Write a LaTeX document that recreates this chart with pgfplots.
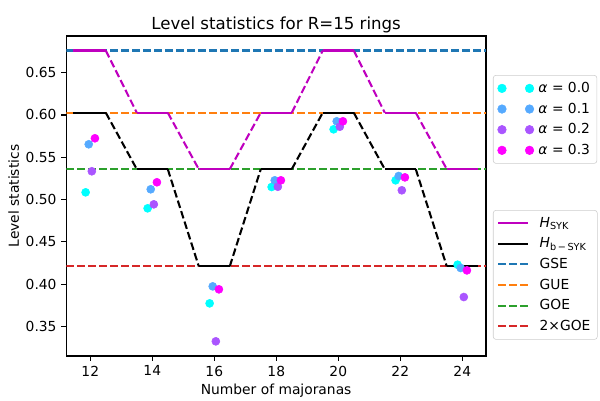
\documentclass[border=0pt]{standalone}
\usepackage{fontspec}
\setmainfont{DejaVu Sans}
\usepackage{pgfplots}
\pgfplotsset{compat=1.18}
\definecolor{cA}{rgb}{0,1,1}
\definecolor{cB}{rgb}{0.333,0.667,1}
\definecolor{cC}{rgb}{0.667,0.333,1}
\definecolor{cD}{rgb}{1,0,1}
\definecolor{syk}{rgb}{0.75,0,0.75}
\definecolor{tabblue}{HTML}{1F77B4}
\definecolor{taborange}{HTML}{FF7F0E}
\definecolor{tabgreen}{HTML}{2CA02C}
\definecolor{tabred}{HTML}{D62728}
\pgfplotsset{
  myax/.style={at={(0pt,0pt)}, anchor=south west, scale only axis,
    width=303.3pt, height=231.3pt,
    xmin=11.226, xmax=24.765, ymin=0.3149, ymax=0.6934},
  mydash/.style={dash pattern=on 5.55pt off 2.4pt},
  myleg/.style={legend cell align=left, draw=black!20, rounded corners=2pt, fill=white,
    font=\fontsize{10}{12}\selectfont, row sep=2pt, inner sep=3pt,
    nodes={inner sep=2pt}},
}
\begin{document}
\begin{tikzpicture}
\path[use as bounding box] (-47.9pt,-31.8pt) rectangle (385.7pt,257.3pt);
\begin{axis}[myax,
  tick align=outside, tick pos=lower,
  major tick length=3.5pt,
  axis line style={line width=0.8pt}, every tick/.style={line width=0.8pt, black},
  xtick={12,14,16,18,20,22,24},
  ytick={0.35,0.40,0.45,0.50,0.55,0.60,0.65},
  yticklabel style={/pgf/number format/.cd, fixed, fixed zerofill, precision=2},
  /pgf/number format/assume math mode=true,
  tick label style={font=\fontsize{10}{12}\selectfont},
  title={Level statistics for R=15 rings},
  title style={font=\fontsize{12}{14}\selectfont, yshift=-7pt},
  xlabel={Number of majoranas},
  ylabel={Level statistics},
  label style={font=\fontsize{10}{12}\selectfont},
  xlabel style={yshift=1pt},
  ylabel style={yshift=-2pt},
  unbounded coords=jump,
  legend style={myleg, at={(1.0167,0.456)}, anchor=north west},
  legend image code/.code={\draw[#1] (0cm,0cm) -- (0.75cm,0cm); \path (0.95cm,0);},
]
% horizontal reference lines
\addplot[tabblue, line width=1.5pt, mydash, forget plot] coordinates {(11.226,0.6762) (24.765,0.6762)};
\addplot[taborange, line width=1.5pt, mydash, forget plot] coordinates {(11.226,0.6027) (24.765,0.6027)};
\addplot[tabgreen, line width=1.5pt, mydash, forget plot] coordinates {(11.226,0.5359) (24.765,0.5359)};
\addplot[tabred, line width=1.5pt, mydash, forget plot] coordinates {(11.226,0.421) (24.765,0.421)};
% H_SYK steps
\addplot[syk, line width=1.5pt, forget plot] coordinates {
 (11.45,0.6762) (12.5,0.6762) (13,nan)
 (13.5,0.6027) (14.5,0.6027) (15,nan)
 (15.5,0.5359) (16.5,0.5359) (17,nan)
 (17.5,0.6027) (18.5,0.6027) (19,nan)
 (19.5,0.6762) (20.5,0.6762) (21,nan)
 (21.5,0.6027) (22.5,0.6027) (23,nan)
 (23.5,0.5359) (24.5,0.5359)};
\addplot[syk, line width=1.5pt, mydash, forget plot] coordinates {
 (12.5,0.6762) (13.5,0.6027) (14,nan)
 (14.5,0.6027) (15.5,0.5359) (16,nan)
 (16.5,0.5359) (17.5,0.6027) (18,nan)
 (18.5,0.6027) (19.5,0.6762) (20,nan)
 (20.5,0.6762) (21.5,0.6027) (22,nan)
 (22.5,0.6027) (23.5,0.5359)};
% H_b-SYK steps
\addplot[black, line width=1.5pt, forget plot] coordinates {
 (11.45,0.6027) (12.5,0.6027) (13,nan)
 (13.5,0.5359) (14.5,0.5359) (15,nan)
 (15.5,0.421) (16.5,0.421) (17,nan)
 (17.5,0.5359) (18.5,0.5359) (19,nan)
 (19.5,0.6027) (20.5,0.6027) (21,nan)
 (21.5,0.5359) (22.5,0.5359) (23,nan)
 (23.5,0.421) (24.5,0.421)};
\addplot[black, line width=1.5pt, mydash, forget plot] coordinates {
 (12.5,0.6027) (13.5,0.5359) (14,nan)
 (14.5,0.5359) (15.5,0.421) (16,nan)
 (16.5,0.421) (17.5,0.5359) (18,nan)
 (18.5,0.5359) (19.5,0.6027) (20,nan)
 (20.5,0.6027) (21.5,0.5359) (22,nan)
 (22.5,0.5359) (23.5,0.421)};
\addlegendimage{syk, line width=1.5pt}
\addlegendentry{\textit{H}\textsubscript{SYK}}
\addlegendimage{black, line width=1.5pt}
\addlegendentry{\textit{H}\textsubscript{b\,−\,SYK}}
\addlegendimage{tabblue, line width=1.5pt, mydash}
\addlegendentry{GSE}
\addlegendimage{taborange, line width=1.5pt, mydash}
\addlegendentry{GUE}
\addlegendimage{tabgreen, line width=1.5pt, mydash}
\addlegendentry{GOE}
\addlegendimage{tabred, line width=1.5pt, mydash}
\addlegendentry{2×GOE}
\end{axis}
\begin{axis}[myax, hide axis,
  legend style={myleg, at={(1.0167,0.878)}, anchor=north west},
]
\addplot[only marks, mark=*, mark size=2.9pt, color=cA,
  legend image code/.code={\fill[cA] (0.1cm,0) circle (3.1pt); \fill[cA] (0.8cm,0) circle (3.1pt); \path (0cm,0) (0.95cm,0);}]
  coordinates {(11.85,0.5085) (13.85,0.4896) (15.85,0.3772) (17.85,0.5148) (19.85,0.583) (21.85,0.5227) (23.85,0.4229)};
\addlegendentry{\textit{α} = 0.0}
\addplot[only marks, mark=*, mark size=2.9pt, color=cB,
  legend image code/.code={\fill[cB] (0.1cm,0) circle (3.1pt); \fill[cB] (0.8cm,0) circle (3.1pt); \path (0cm,0) (0.95cm,0);}]
  coordinates {(11.95,0.5653) (13.95,0.5121) (15.95,0.3973) (17.95,0.5227) (19.95,0.5925) (21.95,0.5278) (23.95,0.419)};
\addlegendentry{\textit{α} = 0.1}
\addplot[only marks, mark=*, mark size=2.9pt, color=cC,
  legend image code/.code={\fill[cC] (0.1cm,0) circle (3.1pt); \fill[cC] (0.8cm,0) circle (3.1pt); \path (0cm,0) (0.95cm,0);}]
  coordinates {(12.05,0.5334) (14.05,0.4943) (16.05,0.3323) (18.05,0.5151) (20.05,0.5861) (22.05,0.5109) (24.05,0.3847)};
\addlegendentry{\textit{α} = 0.2}
\addplot[only marks, mark=*, mark size=2.9pt, color=cD,
  legend image code/.code={\fill[cD] (0.1cm,0) circle (3.1pt); \fill[cD] (0.8cm,0) circle (3.1pt); \path (0cm,0) (0.95cm,0);}]
  coordinates {(12.15,0.5724) (14.15,0.5204) (16.15,0.3938) (18.15,0.5227) (20.15,0.5925) (22.15,0.5262) (24.15,0.4162)};
\addlegendentry{\textit{α} = 0.3}
\end{axis}
\end{tikzpicture}
\end{document}
